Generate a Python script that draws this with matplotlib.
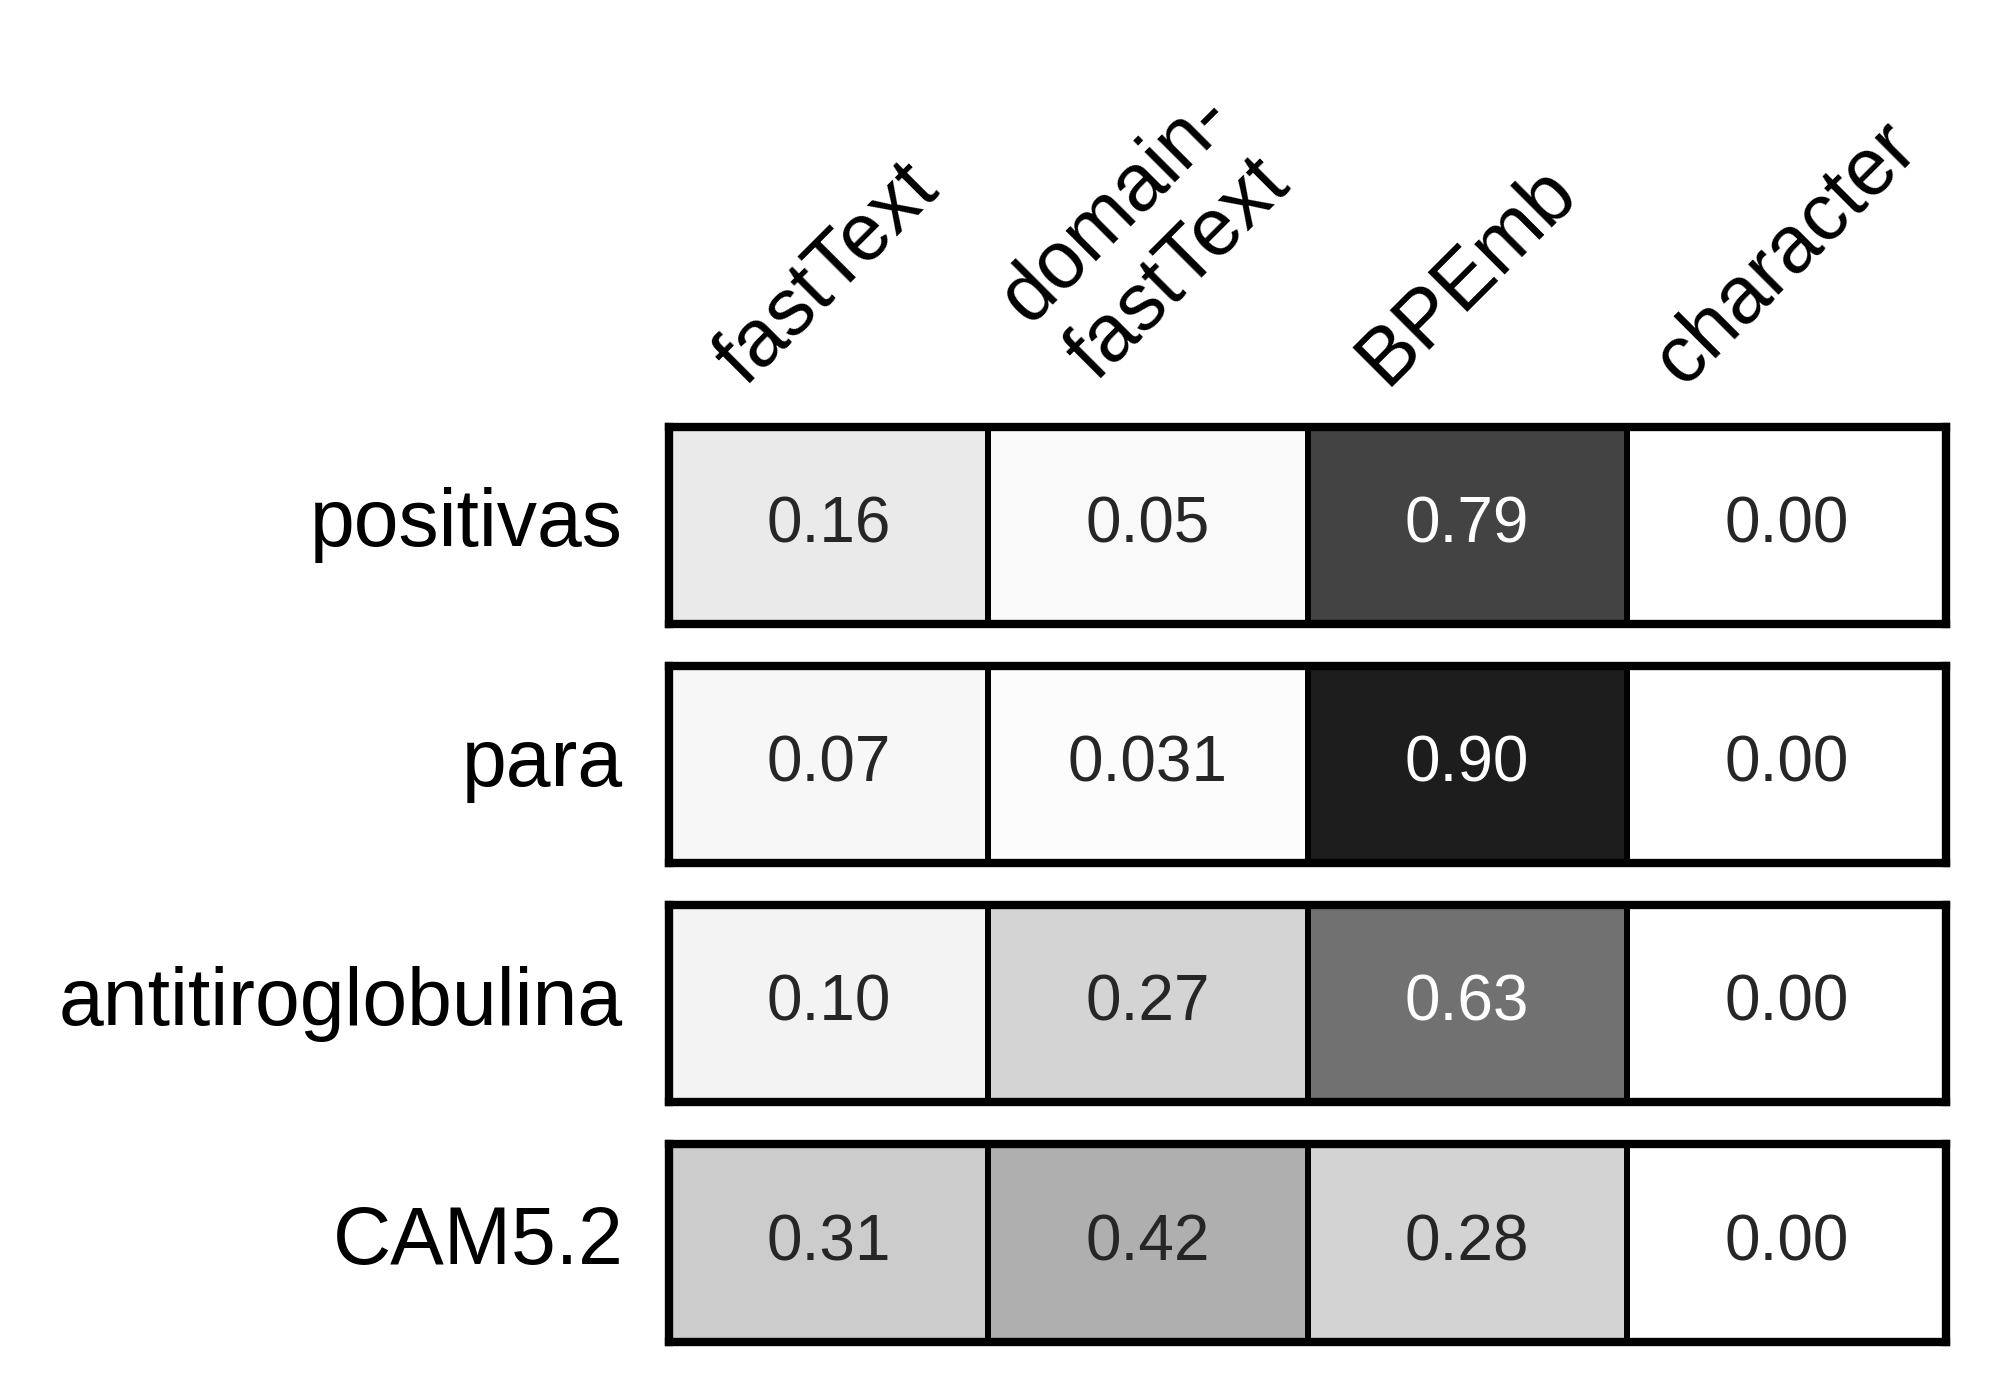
import matplotlib
matplotlib.use("Agg")
import matplotlib.pyplot as plt
import numpy as np
import seaborn as sns

plt.rcParams['font.family'] = ['Liberation Sans', 'DejaVu Sans']

columns = ['fastText', 'domain-\nfastText', 'BPEmb', 'character']
words = ['positivas', 'para', 'antitiroglobulina', 'CAM5.2']
weights = [
    [0.16, 0.05, 0.79, 0.00],
    [0.07, 0.031, 0.90, 0.00],
    [0.10, 0.27, 0.63, 0.00],
    [0.31, 0.42, 0.28, 0.00],
]
labels = [
    ['0.16', '0.05', '0.79', '0.00'],
    ['0.07', '0.031', '0.90', '0.00'],
    ['0.10', '0.27', '0.63', '0.00'],
    ['0.31', '0.42', '0.28', '0.00'],
]

fig, axes = plt.subplots(4, 1, figsize=(20, 13.86), dpi=100)
fig.subplots_adjust(left=0.3345, right=0.973, top=0.692, bottom=0.032, hspace=0.213)

for i, ax in enumerate(axes):
    # one heatmap strip per word
    sns.heatmap(np.array([weights[i]]), ax=ax, cmap='Greys', vmin=0, vmax=1,
                annot=np.array([labels[i]]), fmt='', cbar=False,
                linewidths=4, linecolor='black',
                annot_kws={'fontsize': 46})
    for sp in ax.spines.values():
        sp.set_visible(True)
        sp.set_linewidth(6)
        sp.set_color('black')
    ax.set_yticklabels([words[i]], rotation=0, fontsize=58)
    ax.tick_params(axis='y', length=0, pad=33)
    if i == 0:
        ax.xaxis.tick_top()
        ax.set_xticklabels(columns, rotation=45, fontsize=58)
        ax.tick_params(axis='x', length=0, pad=20)
    else:
        ax.set_xticks([])

fig.savefig('out.png', dpi=100, facecolor='white')
